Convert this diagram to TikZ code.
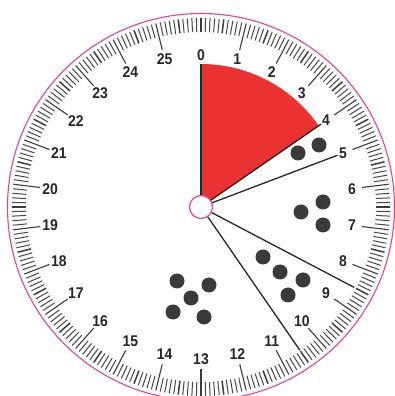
\documentclass[tikz,border=0pt]{standalone}
\usepackage{fontspec}
\setmainfont{Liberation Sans}
\newfontfamily\numfont[FakeStretch=0.9]{Liberation Sans}
\usetikzlibrary{calc}
\definecolor{dialred}{RGB}{234,50,50}
\definecolor{dialpink}{RGB}{232,64,150}
\definecolor{dotgray}{RGB}{58,58,58}
\definecolor{inkgray}{RGB}{38,38,38}
\begin{document}
\begin{tikzpicture}[x=1pt,y=1pt,
  lbl/.style={font=\numfont\fontsize{15.5}{15.5}\selectfont\bfseries, text=inkgray, inner sep=1pt},
  ray/.style={draw=inkgray, line width=1.3pt},
  minortick/.style={draw=inkgray!85, line width=1pt},
  halftick/.style={draw=inkgray!90, line width=1.5pt},
  majortick/.style={draw=inkgray!90, line width=1.1pt},
  dot/.style={circle, fill=dotgray, minimum size=15pt, inner sep=0pt},
  hubstyle/.style={circle, draw=dialpink, fill=white, line width=1.2pt, minimum size=23pt, inner sep=0pt},
  rimstyle/.style={circle, draw=dialpink, line width=1.1pt, minimum size=387pt, inner sep=0pt}]
\useasboundingbox (0,0) rectangle (395,396);
\clip (0,0) rectangle (395,396);
\fill[white] (0,0) rectangle (395,396);
\coordinate (c) at (201,189);
% outer rim
\node[rimstyle] (rim) at (c) {};
% red sector 0..4
\fill[dialred] (c) -- ++(90:143) arc[start angle=90, end angle={90-4*360/26}, radius=143] -- cycle;
% ticks
\foreach \i in {1,...,259}{
  \pgfmathsetmacro\a{90-\i*1.3846153846}
  \pgfmathtruncatemacro\m{mod(\i,10)}
  \ifnum\m=0
    \draw[majortick] (c) ++(\a:162) -- ++(\a:27);
  \else\ifnum\m=5
    \draw[halftick] (c) ++(\a:175) -- ++(\a:14);
  \else
    \draw[minortick] (c) ++(\a:175) -- ++(\a:14);
  \fi\fi
}
\draw[majortick, line width=1.4pt] (c) ++(90:175) -- ++(90:14);
% labels
\foreach \k in {0,...,25}{
  \node[lbl] (n\k) at ($(c)+({90-\k*13.846153846}:152)$) {\k};
}
% hub
\node[hubstyle] (hub) at (c) {};
% ray ends
\coordinate (e0) at ($(c)+(90:143)$);
\coordinate (e4) at ($(c)+({90-4*13.846153846}:146)$);
\coordinate (e5) at ($(c)+({90-5*13.846153846}:146)$);
\coordinate (e85) at ($(c)+({90-8.5*13.846153846}:173)$);
\coordinate (e105) at ($(c)+({90-10.5*13.846153846}:174)$);
\draw[ray] (hub) -- (e0);
\draw[ray] (hub) -- (e4);
\draw[ray] (hub) -- (e5);
\draw[ray] (hub) -- (e85);
\draw[ray] (hub) -- (e105);
% dots
\node[dot] (d1) at (298,243) {};
\node[dot] (d2) at (319,251) {};
\node[dot] (d3) at (301,184) {};
\node[dot] (d4) at (323,194) {};
\node[dot] (d5) at (323,171) {};
\node[dot] (d6) at (263,139) {};
\node[dot] (d7) at (280,124) {};
\node[dot] (d8) at (303,116) {};
\node[dot] (d9) at (288,101) {};
\node[dot] (d10) at (177,115) {};
\node[dot] (d11) at (209,111) {};
\node[dot] (d12) at (191,98) {};
\node[dot] (d13) at (173,84) {};
\node[dot] (d14) at (204,79) {};
\end{tikzpicture}
\end{document}
